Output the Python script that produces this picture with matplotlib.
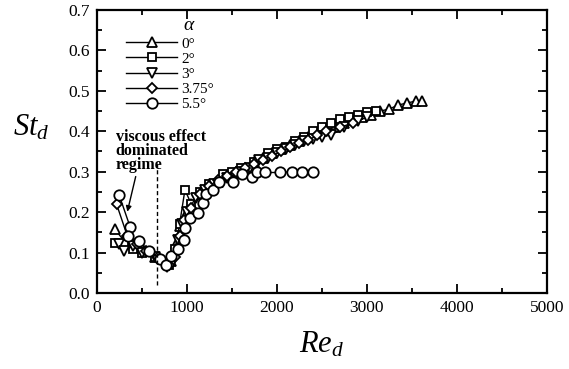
import matplotlib
matplotlib.use("Agg")
import matplotlib.pyplot as plt
from matplotlib.ticker import MultipleLocator, FormatStrFormatter

plt.rcParams['font.family'] = ['Liberation Serif', 'DejaVu Serif']
plt.rcParams['mathtext.fontset'] = 'custom'
plt.rcParams['mathtext.rm'] = 'Liberation Serif'
plt.rcParams['mathtext.it'] = 'Liberation Serif:italic'

labels = ["0°", "2°", "3°", "3.75°", "5.5°"]

re_0 = [200, 300, 400, 520, 650, 780, 830, 880, 930, 980, 1050, 1150, 1250, 1350, 1450, 1550,
        1650, 1750, 1850, 1950, 2050, 2150, 2250, 2350, 2450, 2550, 2650, 2750, 2850, 2950,
        3050, 3150, 3250, 3350, 3450, 3550, 3610]
st_0 = [0.158, 0.13, 0.12, 0.105, 0.09, 0.075, 0.08, 0.12, 0.165, 0.19, 0.22, 0.245, 0.26,
        0.275, 0.29, 0.30, 0.31, 0.325, 0.335, 0.345, 0.355, 0.365, 0.375, 0.385, 0.395, 0.405,
        0.41, 0.42, 0.43, 0.435, 0.44, 0.45, 0.455, 0.465, 0.47, 0.475, 0.475]

re_2 = [200, 300, 400, 500, 650, 800, 870, 920, 980, 1050, 1150, 1250, 1400, 1500, 1600, 1750,
        1900, 2000, 2100, 2200, 2300, 2400, 2500, 2600, 2700, 2800, 2900, 3000, 3100]
st_2 = [0.124, 0.12, 0.11, 0.10, 0.09, 0.07, 0.11, 0.17, 0.255, 0.22, 0.25, 0.27, 0.295, 0.30,
        0.31, 0.325, 0.345, 0.355, 0.362, 0.375, 0.385, 0.40, 0.41, 0.42, 0.43, 0.435, 0.44,
        0.448, 0.45]

re_3 = [250, 300, 400, 500, 650, 780, 850, 900, 950, 1000, 1100, 1200, 1300, 1450, 1600, 1700,
        1800, 1900, 2000, 2100, 2200, 2300, 2400, 2500, 2600, 2750, 2900, 3000]
st_3 = [0.12, 0.105, 0.115, 0.10, 0.09, 0.065, 0.08, 0.13, 0.17, 0.20, 0.235, 0.255, 0.27,
        0.285, 0.30, 0.31, 0.33, 0.335, 0.345, 0.355, 0.365, 0.375, 0.38, 0.387, 0.39, 0.41,
        0.425, 0.435]

re_375 = [220, 340, 450, 550, 680, 800, 870, 920, 970, 1050, 1150, 1250, 1350, 1450, 1550, 1650,
          1750, 1850, 1950, 2050, 2150, 2250, 2350, 2450, 2550, 2700, 2850]
st_375 = [0.22, 0.141, 0.12, 0.105, 0.09, 0.07, 0.09, 0.14, 0.18, 0.21, 0.245, 0.265, 0.28,
          0.29, 0.30, 0.31, 0.32, 0.33, 0.34, 0.35, 0.36, 0.37, 0.378, 0.39, 0.40, 0.41, 0.42]

re_55 = [248, 370, 350, 470, 580, 700, 770, 825, 907, 970, 981, 1037, 1129, 1178, 1214, 1296,
         1363, 1518, 1611, 1722, 1778, 1870, 2037, 2166, 2278, 2400]
st_55 = [0.243, 0.164, 0.14, 0.128, 0.104, 0.085, 0.069, 0.091, 0.108, 0.131, 0.160, 0.185,
         0.199, 0.223, 0.244, 0.255, 0.275, 0.274, 0.294, 0.286, 0.298, 0.298, 0.298, 0.30,
         0.30, 0.30]

series = [(re_0, st_0, '^', 6.5), (re_2, st_2, 's', 5.8), (re_3, st_3, 'v', 6.5),
          (re_375, st_375, 'D', 5.3), (re_55, st_55, 'o', 7.5)]

fig = plt.figure(figsize=(5.69, 3.69), dpi=100)
ax = fig.add_axes([0.170, 0.206, 0.791, 0.767])

for (x, y, m, ms), lab in zip(series, labels):
    ax.plot(x, y, color='black', lw=1.0, marker=m, ms=ms, mfc='white', mec='black',
            mew=1.3, label=lab)

ax.set_xlim(0, 5000)
ax.set_ylim(0, 0.7)
ax.xaxis.set_major_locator(MultipleLocator(1000))
ax.xaxis.set_minor_locator(MultipleLocator(500))
ax.yaxis.set_major_locator(MultipleLocator(0.1))
ax.yaxis.set_minor_locator(MultipleLocator(0.05))
ax.yaxis.set_major_formatter(FormatStrFormatter('%.1f'))
ax.tick_params(which='both', direction='in', top=True, right=True, width=1.3, labelsize=12.5)
ax.tick_params(which='major', length=6.5, pad=5)
ax.tick_params(which='minor', length=3.5)
for s in ax.spines.values():
    s.set_linewidth(1.6)

ax.set_xlabel('$Re_d$', fontsize=22, labelpad=10)
ax.set_ylabel('$St_d$', fontsize=22, rotation=0)
ax.yaxis.set_label_coords(-0.145, 0.53)

# viscous regime marker
ax.plot([673, 673], [0.02, 0.32], color='black', lw=1.0, ls=(0, (3, 2)))
ax.text(210, 0.296, 'viscous effect\ndominated\nregime', fontsize=11.5, fontweight='bold',
        ha='left', va='bottom', linespacing=0.85)
ax.annotate('', xy=(340, 0.201), xytext=(433, 0.288),
            arrowprops=dict(arrowstyle='-|>', color='black', lw=1.0, shrinkA=0, shrinkB=0,
                            mutation_scale=8))

leg = ax.legend(loc='upper left', bbox_to_anchor=(0.066, 0.905), frameon=False,
                fontsize=11, handlelength=3.3, handletextpad=0.3, labelspacing=0.1,
                borderaxespad=0, borderpad=0)
ax.text(960, 0.662, r'$\alpha$', fontsize=14, ha='left', va='center')

fig.savefig('out.png', dpi=100)
